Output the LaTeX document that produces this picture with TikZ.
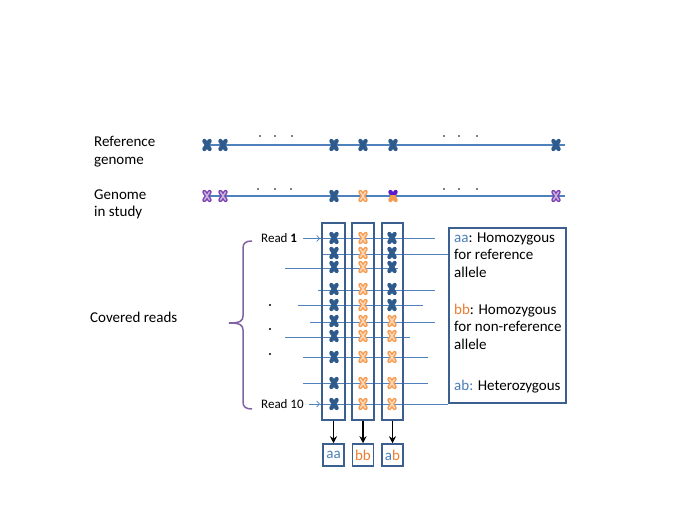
\documentclass[tikz,border=0pt]{standalone}
\usepackage{fontspec}
\setmainfont{Carlito}
\usetikzlibrary{arrows.meta}
\definecolor{lineblue}{HTML}{4F81BD}
\definecolor{boxblue}{HTML}{3B5F8E}
\definecolor{xblue}{HTML}{2F5A8C}
\definecolor{xorange}{HTML}{F59A4E}
\definecolor{xpurple}{HTML}{7A3FB0}
\definecolor{xviolet}{HTML}{5B1BC9}
\definecolor{bracepurple}{HTML}{8064A2}
\definecolor{txtblue}{HTML}{4A7EBB}
\definecolor{txtorange}{HTML}{ED7D31}
\tikzset{
  xarm/.style={line width=4.3pt, line cap=round},
  xf/.pic={\draw[xarm,#1] (-2.6,-4) -- (2.6,4) (-2.6,4) -- (2.6,-4);},
  xh/.pic={\draw[xarm,#1] (-2.6,-4) -- (2.6,4) (-2.6,4) -- (2.6,-4);
           \draw[line width=1.5pt,line cap=round,#1!40!white] (-2.6,-4) -- (2.6,4) (-2.6,4) -- (2.6,-4);},
  xmix/.pic={\begin{scope}\clip (-6,-8) rectangle (6,0);
             \draw[xarm,xviolet] (-2.6,-4) -- (2.6,4) (-2.6,4) -- (2.6,-4);\end{scope}
             \begin{scope}\clip (-6,0) rectangle (6,8);
             \draw[xarm,xorange] (-2.6,-4) -- (2.6,4) (-2.6,4) -- (2.6,-4);\end{scope}},
  lbl/.style={font=\fontsize{15}{17.5}\selectfont, inner sep=0pt, anchor=base west},
  rdl/.style={font=\fontsize{13}{15}\selectfont, inner sep=0pt, anchor=base west},
  gline/.style={draw=lineblue, line width=1.1pt},
  rline/.style={draw=lineblue, line width=0.9pt},
  boxs/.style={draw=boxblue, line width=1.5pt, inner sep=0pt},
  resbox/.style={boxs, minimum width=21, minimum height=22, font=\fontsize{15}{17}\selectfont},
  dotc/.style={fill=black},
  downarrow/.style={-{Stealth[length=7pt,width=7pt]}, line width=1.9pt, black},
  readarrow/.style={draw=lineblue, line width=0.7pt, -{Straight Barb[length=3pt,width=6pt]}},
}
\begin{document}
\begin{tikzpicture}[x=1pt,y=-1pt]
\useasboundingbox (0,0) rectangle (685,529);

% labels
\node[lbl] (refa) at (94,147) {Reference};
\node[lbl] (refb) at (94,165) {genome};
\node[lbl] (stda) at (94,200) {Genome};
\node[lbl] (stdb) at (94,217) {in study};
\node[lbl] (cov) at (90,322) {Covered reads};

% genome lines
\coordinate (gr1) at (207,145); \coordinate (gr2) at (565,145);
\coordinate (gs1) at (207,196); \coordinate (gs2) at (565,196);
\draw[gline] (gr1) -- (gr2);
\draw[gline] (gs1) -- (gs2);
\foreach \x in {260,275,292,444,459,477} \fill[dotc] (\x,136) circle (0.9);
\foreach \x in {258,275,291,444,459,477} \fill[dotc] (\x,189) circle (0.9);
\foreach \x in {207,223,334,363,393,556} \pic at (\x,145) {xf=xblue};
\pic at (207,196) {xh=xpurple};
\pic at (223,196) {xh=xpurple};
\pic at (334,196) {xf=xblue};
\pic at (363,196) {xh=xorange};
\pic at (393,196) {xmix};
\pic at (556,196) {xh=xpurple};

% brace
\draw[bracepurple, line width=1.5pt]
  (252,241) .. controls (246,241) and (243,243) .. (243,248) -- (243,316)
  .. controls (243,321) and (240,323) .. (229,323)
  .. controls (240,323) and (243,325) .. (243,330) -- (243,402)
  .. controls (243,407) and (246,409) .. (252,409);

% covered read dots
\foreach \y in {305,329,354} \fill[dotc] (270,\y) circle (1.1);

% read labels
\node[rdl] (rd1) at (261,243) {Read \textbf{1}};
\node[rdl] (rd10) at (261,408) {Read 10};
\coordinate (a1s) at (303,238.5); \coordinate (a1e) at (320,238.5);
\coordinate (a10s) at (309,404); \coordinate (a10e) at (320,404);
\draw[readarrow] (a1s) -- (a1e);
\draw[readarrow] (a10s) -- (a10e);

% legend box
\node[boxs, minimum width=117, minimum height=175] (leg) at (507.5,315.5) {};

% read lines
\foreach \y/\a/\b in {238.5/320/435, 254/322/448, 268/285/398, 290/318/435, 305/298/423,
                      322/310/435, 337/285/410, 357/303/428, 383/303/428, 404/320/448}
  \draw[rline] (\a,\y) -- (\b,\y);

% column boxes
\node[boxs, minimum width=23, minimum height=197] (col1) at (333.5,321.5) {};
\node[boxs, minimum width=22, minimum height=197] (col2) at (363,321.5) {};
\node[boxs, minimum width=21, minimum height=197] (col3) at (392.5,321.5) {};

% crosses in reads
\foreach \y [count=\i] in {238,253,267,289,305,321,336,357,383,404} {
  \pic at (334,\y) {xf=xblue};
  \pic at (363,\y) {xh=xorange};
  \ifnum\i<6 \pic at (392,\y) {xf=xblue}; \else \pic at (392,\y) {xh=xorange}; \fi
}

% result boxes
\node[resbox] (res1) at (333.5,455) {\color{txtblue}aa};
\node[resbox] (res2) at (363,455) {\color{txtorange}bb};
\node[resbox] (res3) at (392.5,455) {{\color{txtblue}a}{\color{txtorange}b}};
\draw[downarrow] (col1.south) -- (res1.north);
\draw[downarrow] (col2.south) -- (res2.north);
\draw[downarrow] (col3.south) -- (res3.north);

% legend text
\node[lbl] (l1) at (454,243) {{\color{txtblue}aa}: Homozygous};
\node[lbl] (l2) at (454,260) {for reference};
\node[lbl] (l3) at (454,277) {allele};
\node[lbl] (l4) at (454,314) {{\color{txtorange}bb}: Homozygous};
\node[lbl] (l5) at (454,331.5) {for non-reference};
\node[lbl] (l6) at (454,349) {allele};
\node[lbl] (l7) at (454,390) {{\color{txtblue}ab:} Heterozygous};
\end{tikzpicture}
\end{document}
